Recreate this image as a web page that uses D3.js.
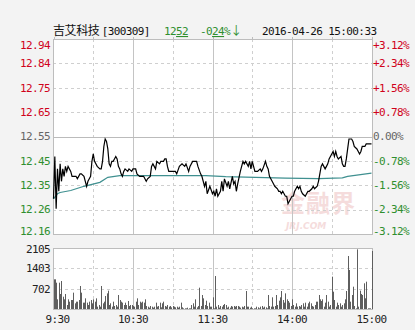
<!DOCTYPE html>
<html><head><meta charset="utf-8">
<script src="https://cdn.jsdelivr.net/npm/d3@7"></script>
<style>
html,body{margin:0;padding:0;background:#f3f3f3;}
svg{display:block;}
text{font-family:"DejaVu Sans Mono","Noto Sans CJK SC",monospace;font-size:11px;letter-spacing:-0.6px;}
</style></head>
<body><div id="chart"></div>
<script>
// ---------- data ----------
const stockName = "吉艾科技";
const stockCode = "[300309]";
const lastPrice = ["12", "52"];
const changePct = ["-0", "24", "%"];
const arrow = "↓";
const stamp = "2016-04-26 15:00:33";
const prevClose = 12.55;
const pctLevels = [3.12, 2.34, 1.56, 0.78, 0, -0.78, -1.56, -2.34, -3.12];
const priceLabels = ["12.94", "12.84", "12.75", "12.65", "12.55", "12.45", "12.35", "12.26", "12.16"];
const pctLabels = ["+3.12%", "+2.34%", "+1.56%", "+0.78%", "0.00%", "-0.78%", "-1.56%", "-2.34%", "-3.12%"];
const timeLabels = ["9:30", "10:30", "11:30", "14:00", "15:00"];
const timeLabelMinutes = [0, 60, 120, 180, 240];
const volLabels = ["2105", "1403", "702"];
const volLevels = [2105, 1403, 702];

// price keypoints (minute index 0..240, afternoon continues after 120)
const priceMinutes = [0,1,2,3,4,5,6,7,8,9,10,11,13,14,17,18,20,21,23,24,25,26,27,28,29,30,31,33,35,36,37,38,39,40,41,42,43,44,45,46,47,48,49,50,51,52,53,54,56,57,59,
 60,62,63,65,68,70,71,73,74,75,77,78,80,81,83,84,85,86,87,90,92,93,95,97,99,100,102,103,105,108,109,111,112,113,114,115,116,118,120,
 121,122,123,124,126,127,128,129,131,132,133,135,136,137,138,139,141,142,143,144,145,147,148,149,150,152,153,154,156,157,158,160,161,162,163,165,166,167,169,170,171,172,173,175,176,177,178,180,
 181,182,184,185,186,187,188,190,191,192,193,195,196,197,199,200,201,202,203,205,206,207,208,210,211,212,213,214,215,217,218,219,220,221,222,223,225,226,227,229,230,231,232,233,235,236,240];
const prices = [12.30,12.47,12.26,12.42,12.33,12.44,12.37,12.42,12.39,12.43,12.41,12.43,12.41,12.39,12.39,12.38,12.40,12.40,12.39,12.37,12.35,12.37,12.38,12.39,12.45,12.48,12.45,12.43,12.42,12.42,12.45,12.51,12.54,12.53,12.50,12.44,12.43,12.45,12.45,12.46,12.47,12.46,12.43,12.42,12.40,12.39,12.41,12.42,12.41,12.42,12.41,
 12.42,12.42,12.40,12.39,12.39,12.37,12.38,12.39,12.43,12.44,12.42,12.45,12.44,12.45,12.45,12.46,12.46,12.43,12.41,12.41,12.41,12.40,12.43,12.44,12.43,12.44,12.41,12.43,12.45,12.45,12.43,12.40,12.39,12.37,12.35,12.37,12.32,12.35,12.32,
 12.33,12.31,12.34,12.31,12.33,12.37,12.33,12.38,12.35,12.37,12.34,12.39,12.36,12.37,12.33,12.36,12.41,12.43,12.45,12.44,12.45,12.43,12.45,12.42,12.45,12.41,12.41,12.41,12.42,12.41,12.42,12.45,12.43,12.42,12.39,12.37,12.36,12.35,12.34,12.33,12.33,12.32,12.33,12.31,12.31,12.28,12.29,12.31,
 12.31,12.33,12.35,12.34,12.35,12.33,12.32,12.31,12.32,12.33,12.33,12.34,12.35,12.34,12.35,12.37,12.40,12.43,12.44,12.42,12.43,12.44,12.46,12.48,12.49,12.47,12.49,12.47,12.46,12.47,12.44,12.43,12.43,12.46,12.50,12.54,12.54,12.53,12.51,12.50,12.49,12.48,12.49,12.51,12.51,12.52,12.52];

const avgMinutes = [0,3,5,13,23,35,41,50,115,130,175,200,218,222,240];
const avgPrices = [12.30,12.32,12.325,12.333,12.35,12.366,12.386,12.393,12.393,12.389,12.383,12.381,12.384,12.39,12.403];

const volumes = [
 1024,1024,908,334,908,518,966,425,334,518,138,334,253,310,310,564,196,253,253,310,794,564,219,219,368,219,138,253,310,196,334,253,368,81,138,81,794,196,253,449,
 540,633,138,196,81,253,104,138,81,483,310,253,219,138,219,138,276,104,138,138,104,81,253,368,138,253,219,253,219,334,104,81,46,104,81,46,81,219,81,104,
 219,58,196,253,104,81,138,81,104,58,104,81,58,81,46,81,219,58,23,23,23,46,23,23,138,196,81,334,58,104,
 736,104,483,368,138,287,104,219,81,81,403,
 23,1138,
 81,138,46,104,81,138,173,138,46,81,46,104,81,104,81,104,104,81,46,81,58,104,
 621,
 81,81,46,81,23,23,23,81,58,23,81,104,46,81,58,23,
 483,
 104,81,403,81,104,483,138,287,403,621,310,219,540,334,276,219,104,334,138,81,196,81,104,81,138,196,81,219,81,196,253,196,104,81,138,253,253,483,334,276,334,81,219,483,253,81,138,
 1116,
 598,310,81,219,138,196,81,138,196,334,621,
 1829,1346,253,483,770,104,23,2059,81,633,518,483,886,368,943,23,23,23,2001];

// ---------- layout ----------
const W = 415, H = 330;
const L = 53, R = 372, pTop = 39, pBot = 234, vTop = 248, vBot = 309;
const red = "#d0021b", green = "#2f8f2f", gray = "#666";

const svg = d3.select("#chart").append("svg").attr("width", W).attr("height", H);
svg.append("rect").attr("width", W).attr("height", H).attr("fill", "#f3f3f3");

const x = d3.scaleLinear().domain([0, 240]).range([L + 0.5, R - 0.5]);
const yPct = d3.scaleLinear().domain([-3.12, 3.12]).range([pBot, pTop]);
const yPrice = d3.scaleLinear().domain([prevClose * (1 - 0.0312), prevClose * (1 + 0.0312)]).range([pBot, pTop]);
const yVol = d3.scaleLinear().domain([0, 2105]).range([vBot, vTop]);

// panels
svg.append("rect").attr("x", L + 0.5).attr("y", pTop + 0.5).attr("width", R - L).attr("height", pBot - pTop).attr("fill", "#fff");
svg.append("rect").attr("x", L + 0.5).attr("y", vTop + 0.5).attr("width", R - L).attr("height", vBot - vTop).attr("fill", "#fff");

// watermark
const wm = svg.append("g").attr("fill", "#f5dcdc");
wm.append("text").attr("x", 281).attr("y", 212).style("font-family", "Noto Sans CJK SC").style("font-size", "24px").style("letter-spacing", "1px").style("font-weight", "bold").text("金融界");
wm.append("text").attr("x", 286).attr("y", 229).style("font-family", "DejaVu Sans").style("font-size", "9px").style("letter-spacing", "0px").style("font-style", "italic").style("font-weight", "bold").text("JRJ.COM");

// grid
const gridSolid = "#c4c4c4", gridDash = "#cfcfcf";
const gridMin = [30, 60, 90, 120, 150, 180, 210];
function vgrid(y0, y1) {
  gridMin.forEach((m, i) => {
    const xx = Math.round(x(m)) + 0.5;
    svg.append("line").attr("x1", xx).attr("x2", xx).attr("y1", y0).attr("y2", y1)
      .attr("stroke", i % 2 === 1 ? gridSolid : gridDash).attr("stroke-dasharray", i % 2 === 1 ? null : "3,3");
  });
}
vgrid(pTop, pBot);
vgrid(vTop, vBot);
pctLevels.slice(1, -1).forEach(p => {
  const yy = Math.round(yPct(p)) + 0.5;
  svg.append("line").attr("x1", L).attr("x2", R).attr("y1", yy).attr("y2", yy)
    .attr("stroke", p === 0 ? "#bbb" : gridDash).attr("stroke-dasharray", p === 0 ? null : "3,3");
});
volLevels.slice(1).forEach(v => {
  const yy = Math.round(yVol(v)) + 0.5;
  svg.append("line").attr("x1", L).attr("x2", R).attr("y1", yy).attr("y2", yy).attr("stroke", gridDash).attr("stroke-dasharray", "3,3");
});
// borders
[[pTop, pBot], [vTop, vBot]].forEach(([a, b]) => {
  svg.append("rect").attr("x", L + 0.5).attr("y", a + 0.5).attr("width", R - L).attr("height", b - a)
    .attr("fill", "none").attr("stroke", "#bdbdbd");
});
// top tick marks above price panel
[0, ...gridMin, 240].forEach(m => {
  const xx = Math.round(x(m)) + 0.5;
  svg.append("line").attr("x1", xx).attr("x2", xx).attr("y1", pTop - 2).attr("y2", pTop).attr("stroke", "#bdbdbd");
});

// axis labels (price & pct)
pctLevels.forEach((p, i) => {
  let yy = yPct(p);
  if (i === 0) yy += 6;
  if (i === pctLevels.length - 1) yy -= 3;
  const c = p > 0 ? red : (p < 0 ? green : gray);
  svg.append("text").attr("x", 50).attr("y", yy).attr("dy", "0.35em").attr("text-anchor", "end").attr("fill", c).text(priceLabels[i]);
  svg.append("text").attr("x", 373).attr("y", yy).attr("dy", "0.35em").attr("fill", c).text(pctLabels[i]);
});
volLevels.forEach((v, i) => {
  svg.append("text").attr("x", 50).attr("y", yVol(v) + (i === 0 ? 1 : 0)).attr("dy", "0.35em").attr("text-anchor", "end").attr("fill", "#222").text(volLabels[i]);
});
timeLabels.forEach((t, i) => {
  let xx = x(timeLabelMinutes[i]);
  if (i === 0) xx += 4;
  svg.append("text").attr("x", xx).attr("y", 319).attr("dy", "0.35em").attr("text-anchor", "middle").attr("fill", "#222").text(t);
});

// volume bars
svg.append("g").selectAll("rect").data(volumes).join("rect")
  .attr("x", (d, i) => Math.round(x(i)))
  .attr("y", d => yVol(d))
  .attr("width", 1)
  .attr("height", d => vBot - yVol(d))
  .attr("fill", "#5e5e5e");

// avg line
const avgData = avgMinutes.map((m, i) => [m, avgPrices[i]]);
svg.append("path").datum(avgData)
  .attr("d", d3.line().x(d => x(d[0])).y(d => yPrice(d[1])))
  .attr("fill", "none").attr("stroke", "#3f9090").attr("stroke-width", 1.2);

// price line
const priceData = priceMinutes.map((m, i) => [m, prices[i]]);
svg.append("path").datum(priceData)
  .attr("d", d3.line().x(d => x(d[0])).y(d => yPrice(d[1])))
  .attr("fill", "none").attr("stroke", "#000").attr("stroke-width", 1.2);

// title
const t1 = svg.append("text").attr("x", 53).attr("y", 35).attr("fill", "#111");
t1.append("tspan").style("font-family", "Noto Sans CJK SC").style("font-size", "12px").style("letter-spacing", "-0.4px").text(stockName + " ");
t1.append("tspan").text(stockCode);
const t2 = svg.append("text").attr("x", 164).attr("y", 35).attr("fill", green);
t2.append("tspan").text(lastPrice[0]);
t2.append("tspan").attr("text-decoration", "underline").text(lastPrice[1]);
const t3 = svg.append("text").attr("x", 200).attr("y", 35).attr("fill", green);
t3.append("tspan").text(changePct[0]);
t3.append("tspan").attr("text-decoration", "underline").text(changePct[1]);
t3.append("tspan").text(changePct[2]);
t3.append("tspan").style("font-family", "Noto Sans CJK SC").style("font-size", "12px").text(arrow);
svg.append("text").attr("x", 262).attr("y", 35).attr("fill", "#111").text(stamp);
</script></body></html>
